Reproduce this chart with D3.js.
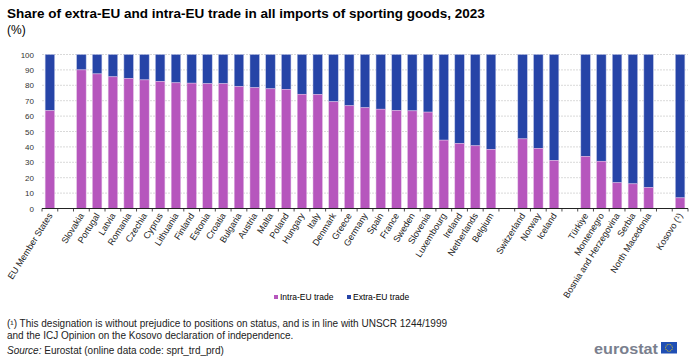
<!DOCTYPE html>
<html>
  <head>
    <style>
    body {
      font-family: "Liberation Sans", Arial, sans-serif;
      margin: 0;
      background: #fff;
    }
    </style>
  </head>
  <body>
    <script src="https://d3js.org/d3.v7.min.js"></script>
    <script>

// categories, blank names = empty slot between groups
var countries = ["EU Member States", "",
  "Slovakia", "Portugal", "Latvia", "Romania", "Czechia", "Cyprus", "Lithuania", "Finland",
  "Estonia", "Croatia", "Bulgaria", "Austria", "Malta", "Poland", "Hungary", "Italy",
  "Denmark", "Greece", "Germany", "Spain", "France", "Sweden", "Slovenia", "Luxembourg",
  "Ireland", "Netherlands", "Belgium", " ",
  "Switzerland", "Norway", "Iceland", "  ",
  "Türkiye", "Montenegro", "Bosnia and Herzegovina", "Serbia", "North Macedonia", "   ",
  "Kosovo (¹)"];

// intra-EU share (%), null for gaps
var intraEU = [63.5, null,
  90.0, 87.4, 85.5, 84.4, 83.5, 82.5, 81.6, 81.4,
  81.0, 81.0, 79.2, 78.4, 77.7, 77.3, 74.2, 74.0,
  69.3, 66.7, 65.4, 64.5, 63.6, 63.4, 62.6, 44.4,
  42.2, 40.7, 38.3, null,
  45.2, 39.0, 31.2, null,
  33.8, 30.7, 16.7, 16.0, 13.6, null,
  6.9];

var yTicks = [0, 10, 20, 30, 40, 50, 60, 70, 80, 90, 100];
var seriesNames = ["Intra-EU trade", "Extra-EU trade"];
var colors = ["#b656bd", "#2644a7"];

var width = 700, height = 361;
var svg = d3.select("body").append("svg")
    .attr("width", width)
    .attr("height", height);

var x = d3.scaleBand().domain(countries).range([42, 688]).paddingInner(0.4).paddingOuter(0.2);
var y = d3.scaleLinear().domain([0, 100]).range([208.5, 54.5]);

// title
svg.append("text").attr("x", 7).attr("y", 18)
    .style("font-size", "13.5px").style("font-weight", "bold").style("fill", "#000")
    .text("Share of extra-EU and intra-EU trade in all imports of sporting goods, 2023");
svg.append("text").attr("x", 7).attr("y", 34)
    .style("font-size", "12px").style("fill", "#000")
    .text("(%)");

// gridlines
svg.selectAll(".grid").data(yTicks.slice(1)).enter().append("line")
    .attr("x1", 42).attr("x2", 688)
    .attr("y1", d => y(d)).attr("y2", d => y(d))
    .style("stroke", "#cfcfcf").style("stroke-width", 0.8)
    .style("stroke-dasharray", "2,1");

// y labels
svg.selectAll(".ylab").data(yTicks).enter().append("text")
    .attr("x", 34).attr("y", d => y(d) + 3)
    .attr("text-anchor", "end")
    .style("font-size", "8px").style("fill", "#333")
    .text(d => d);

var data = countries.map((c, i) => ({c: c, v: intraEU[i]})).filter(d => d.v !== null);

// extra-EU bars
svg.selectAll(".extra").data(data).enter().append("rect")
    .attr("x", d => x(d.c)).attr("width", x.bandwidth())
    .attr("y", y(100)).attr("height", d => y(d.v) - y(100))
    .style("fill", colors[1]).style("stroke", "#b9c2e6").style("stroke-width", 0.5);

// intra-EU bars
svg.selectAll(".intra").data(data).enter().append("rect")
    .attr("x", d => x(d.c)).attr("width", x.bandwidth())
    .attr("y", d => y(d.v)).attr("height", d => y(0) - y(d.v))
    .style("fill", colors[0]).style("stroke", "#e3c2e6").style("stroke-width", 0.5);

// x axis
svg.append("line").attr("x1", 42).attr("x2", 688).attr("y1", y(0)).attr("y2", y(0))
    .style("stroke", "#222").style("stroke-width", 1);
var step = x.step();
svg.selectAll(".xtick").data(d3.range(countries.length + 1)).enter().append("line")
    .attr("x1", i => i === 0 ? 42 : (i === countries.length ? 688 : x(countries[i]) - step * 0.2))
    .attr("x2", i => i === 0 ? 42 : (i === countries.length ? 688 : x(countries[i]) - step * 0.2))
    .attr("y1", y(0)).attr("y2", y(0) + 3)
    .style("stroke", "#222").style("stroke-width", 0.8);

svg.selectAll(".xlab").data(countries.filter(c => c.trim() !== "")).enter().append("text")
    .attr("transform", d => "translate(" + (x(d) + x.bandwidth() / 2 + 3) + "," + (y(0) + 7) + ") rotate(-58)")
    .attr("text-anchor", "end")
    .style("font-size", "9px").style("fill", "#222")
    .text(d => d);

// legend
var legend = svg.selectAll(".leg").data(seriesNames).enter().append("g")
    .attr("transform", (d, i) => "translate(" + (279 + i * 73) + ",300)");
legend.append("rect").attr("x", -5).attr("y", -5).attr("width", 4).attr("height", 4)
    .style("fill", (d, i) => colors[i]);
legend.append("text").attr("x", 1).attr("y", 0)
    .style("font-size", "8.5px").style("fill", "#000")
    .text(d => d);

// footnotes
var notes = [
  "(¹) This designation is without  prejudice to positions on status, and is in line with UNSCR 1244/1999",
  "and the ICJ Opinion on the Kosovo declaration of independence."
];
svg.selectAll(".note").data(notes).enter().append("text")
    .attr("x", 7).attr("y", (d, i) => 327 + i * 12)
    .style("font-size", "10px").style("fill", "#222")
    .text(d => d);
var src = svg.append("text").attr("x", 7).attr("y", 354)
    .style("font-size", "10px").style("fill", "#222");
src.append("tspan").style("font-style", "italic").text("Source:");
src.append("tspan").text(" Eurostat (online data code: sprt_trd_prd)");

// eurostat logo
svg.append("text").attr("x", 594).attr("y", 353.5)
    .attr("textLength", 64).attr("lengthAdjust", "spacingAndGlyphs")
    .style("font-size", "15px").style("fill", "#7a7f8e").style("font-weight", "bold")
    .text("eurostat");
svg.append("rect").attr("x", 661).attr("y", 342).attr("width", 16).attr("height", 11.5)
    .style("fill", "#1f4eb4");
var stars = d3.range(12).map(i => [669 + 3.4 * Math.cos(i * Math.PI / 6), 347.75 + 3.4 * Math.sin(i * Math.PI / 6)]);
svg.selectAll(".star").data(stars).enter().append("circle")
    .attr("cx", d => d[0]).attr("cy", d => d[1]).attr("r", 0.5)
    .style("fill", "#ffdd00");

    </script>
  </body>
</html>
